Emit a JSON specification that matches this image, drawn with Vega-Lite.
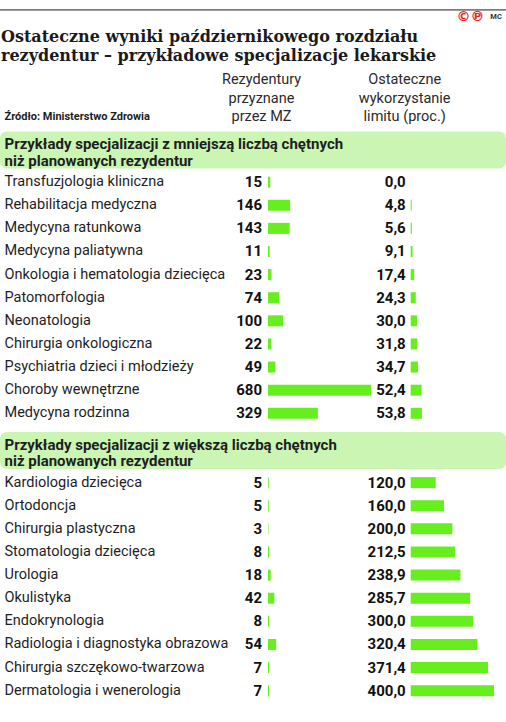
{
  "$schema": "https://vega.github.io/schema/vega-lite/v6.json",
  "width": 506,
  "height": 711,
  "padding": 0,
  "autosize": {"type": "pad"},
  "background": "white",
  "title": {
    "text": ["Ostateczne wyniki październikowego rozdziału", "rezydentur – przykładowe specjalizacje lekarskie"],
    "anchor": "start",
    "frame": "group",
    "offset": -64,
    "font": "DejaVu Serif",
    "fontSize": 16,
    "fontWeight": "bold",
    "color": "#1a1a1a",
    "lineHeight": 19,
    "dx": 1
  },
  "config": {
    "view": {"stroke": null},
    "locale": {"number": {"decimal": ",", "thousands": " ", "grouping": [3], "currency": ["", " zł"]}}
  },
  "datasets": {
    "rows": [
      {"name": "Transfuzjologia kliniczna", "v1": 15, "v2": 0.0},
      {"name": "Rehabilitacja medyczna", "v1": 146, "v2": 4.8},
      {"name": "Medycyna ratunkowa", "v1": 143, "v2": 5.6},
      {"name": "Medycyna paliatywna", "v1": 11, "v2": 9.1},
      {"name": "Onkologia i hematologia dziecięca", "v1": 23, "v2": 17.4},
      {"name": "Patomorfologia", "v1": 74, "v2": 24.3},
      {"name": "Neonatologia", "v1": 100, "v2": 30.0},
      {"name": "Chirurgia onkologiczna", "v1": 22, "v2": 31.8},
      {"name": "Psychiatria dzieci i młodzieży", "v1": 49, "v2": 34.7},
      {"name": "Choroby wewnętrzne", "v1": 680, "v2": 52.4},
      {"name": "Medycyna rodzinna", "v1": 329, "v2": 53.8},
      {"name": "Kardiologia dziecięca", "v1": 5, "v2": 120.0},
      {"name": "Ortodoncja", "v1": 5, "v2": 160.0},
      {"name": "Chirurgia plastyczna", "v1": 3, "v2": 200.0},
      {"name": "Stomatologia dziecięca", "v1": 8, "v2": 212.5},
      {"name": "Urologia", "v1": 18, "v2": 238.9},
      {"name": "Okulistyka", "v1": 42, "v2": 285.7},
      {"name": "Endokrynologia", "v1": 8, "v2": 300.0},
      {"name": "Radiologia i diagnostyka obrazowa", "v1": 54, "v2": 320.4},
      {"name": "Chirurgia szczękowo-twarzowa", "v1": 7, "v2": 371.4},
      {"name": "Dermatologia i wenerologia", "v1": 7, "v2": 400.0}
    ],
    "groups": [
      {"name": "Przykłady specjalizacji z mniejszą liczbą chętnych|niż planowanych rezydentur"},
      {"name": "Przykłady specjalizacji z większą liczbą chętnych|niż planowanych rezydentur"}
    ],
    "topline": [{"name": "_a"}],
    "head1": [{"t": "Rezydentury|przyznane|przez MZ"}],
    "head2": [{"t": "Ostateczne|wykorzystanie|limitu (proc.)"}],
    "logo": [{"t": "©℗"}],
    "logo2": [{"t": "MC"}]
  },
  "encoding": {
    "y": {
      "field": "name",
      "type": "nominal",
      "sort": null,
      "scale": {
        "domain": ["_a", "_b", "_c", "_d", "Źródło: Ministerstwo Zdrowia",
          "Przykłady specjalizacji z mniejszą liczbą chętnych|niż planowanych rezydentur", "_s1",
          "Transfuzjologia kliniczna", "Rehabilitacja medyczna", "Medycyna ratunkowa", "Medycyna paliatywna",
          "Onkologia i hematologia dziecięca", "Patomorfologia", "Neonatologia", "Chirurgia onkologiczna",
          "Psychiatria dzieci i młodzieży", "Choroby wewnętrzne", "Medycyna rodzinna",
          "Przykłady specjalizacji z większą liczbą chętnych|niż planowanych rezydentur", "_s2",
          "Kardiologia dziecięca", "Ortodoncja", "Chirurgia plastyczna", "Stomatologia dziecięca", "Urologia",
          "Okulistyka", "Endokrynologia", "Radiologia i diagnostyka obrazowa", "Chirurgia szczękowo-twarzowa",
          "Dermatologia i wenerologia"],
        "paddingInner": 0,
        "paddingOuter": 0.38
      },
      "axis": {
        "title": null,
        "domain": false,
        "ticks": false,
        "tickSize": 0,
        "zindex": 1,
        "labelPadding": -4,
        "labelAlign": "left",
        "labelBaseline": "middle",
        "labelLimit": 480,
        "labelOverlap": false,
        "labelFont": "Roboto",
        "labelColor": "#1e1e1e",
        "labelLineHeight": 16.5,
        "labelExpr": "indexof(datum.label, '_') == 0 ? '' : split(datum.label, '|')",
        "labelFontSize": {"condition": [
          {"test": "indexof(datum.value, 'Źródło') == 0", "value": 11},
          {"test": "indexof(datum.value, '|') >= 0", "value": 15}
        ], "value": 14.5},
        "labelFontWeight": {"condition": {"test": "indexof(datum.value, '|') >= 0 || indexof(datum.value, 'Źródło') == 0", "value": "bold"}, "value": "normal"},
        "labelOffset": {"condition": [
          {"test": "indexof(datum.value, 'Źródło') == 0", "value": 4},
          {"test": "indexof(datum.value, '|') >= 0", "value": 8.5}
        ], "value": 0}
      }
    }
  },
  "layer": [
    {
      "data": {"name": "groups"},
      "mark": {"type": "bar", "color": "#caf5b2", "cornerRadius": 7, "height": 37, "yOffset": 14}
    },
    {
      "data": {"name": "topline"},
      "mark": {"type": "bar", "color": "#7d7d7d", "height": 1.6, "yOffset": -10.5}
    },
    {
      "layer": [
        {
          "data": {"name": "rows"},
          "mark": {"type": "bar", "color": "#66ee1e", "height": 11},
          "encoding": {
            "x": {"field": "v1", "type": "quantitative", "axis": null,
              "scale": {"domain": [0, 680], "range": [268, 371], "nice": false, "zero": true}}
          }
        },
        {
          "data": {"name": "rows"},
          "mark": {"type": "text", "align": "right", "baseline": "middle", "dx": -6, "font": "Roboto", "fontSize": 15, "fontWeight": "bold", "color": "#111"},
          "encoding": {
            "x": {"datum": 0, "type": "quantitative"},
            "text": {"field": "v1", "type": "quantitative", "format": "d"}
          }
        },
        {
          "data": {"name": "head1"},
          "mark": {"type": "text", "align": "center", "baseline": "middle", "dx": -6.5, "dy": -32.5, "lineBreak": "|", "lineHeight": 18.5, "font": "Roboto", "fontSize": 14.5, "color": "#2a2a2a"},
          "encoding": {
            "x": {"datum": 0, "type": "quantitative"},
            "y": {"datum": "Źródło: Ministerstwo Zdrowia"},
            "text": {"field": "t"}
          }
        }
      ]
    },
    {
      "layer": [
        {
          "data": {"name": "rows"},
          "mark": {"type": "bar", "color": "#66ee1e", "height": 11},
          "encoding": {
            "x": {"field": "v2", "type": "quantitative", "axis": null,
              "scale": {"domain": [0, 400], "range": [410.7, 494], "nice": false, "zero": true}}
          }
        },
        {
          "data": {"name": "rows"},
          "mark": {"type": "text", "align": "right", "baseline": "middle", "dx": -5, "font": "Roboto", "fontSize": 15, "fontWeight": "bold", "color": "#111"},
          "encoding": {
            "x": {"datum": 0, "type": "quantitative"},
            "text": {"field": "v2", "type": "quantitative", "format": ".1f"}
          }
        },
        {
          "data": {"name": "head2"},
          "mark": {"type": "text", "align": "center", "baseline": "middle", "dx": -6, "dy": -32.5, "lineBreak": "|", "lineHeight": 18.5, "font": "Roboto", "fontSize": 14.5, "color": "#2a2a2a"},
          "encoding": {
            "x": {"datum": 0, "type": "quantitative"},
            "y": {"datum": "Źródło: Ministerstwo Zdrowia"},
            "text": {"field": "t"}
          }
        },
        {
          "data": {"name": "logo"},
          "mark": {"type": "text", "align": "center", "baseline": "middle", "dy": -3, "font": "DejaVu Sans", "fontSize": 14, "fontWeight": "bold", "color": "#e8262b"},
          "encoding": {
            "x": {"datum": 287, "type": "quantitative"},
            "y": {"datum": "_a"},
            "text": {"field": "t"}
          }
        },
        {
          "data": {"name": "logo2"},
          "mark": {"type": "text", "align": "center", "baseline": "middle", "dy": -3, "font": "Roboto", "fontSize": 7.5, "fontWeight": "bold", "color": "#333"},
          "encoding": {
            "x": {"datum": 410, "type": "quantitative"},
            "y": {"datum": "_a"},
            "text": {"field": "t"}
          }
        }
      ]
    }
  ],
  "resolve": {"scale": {"x": "independent"}, "axis": {"x": "independent"}}
}
